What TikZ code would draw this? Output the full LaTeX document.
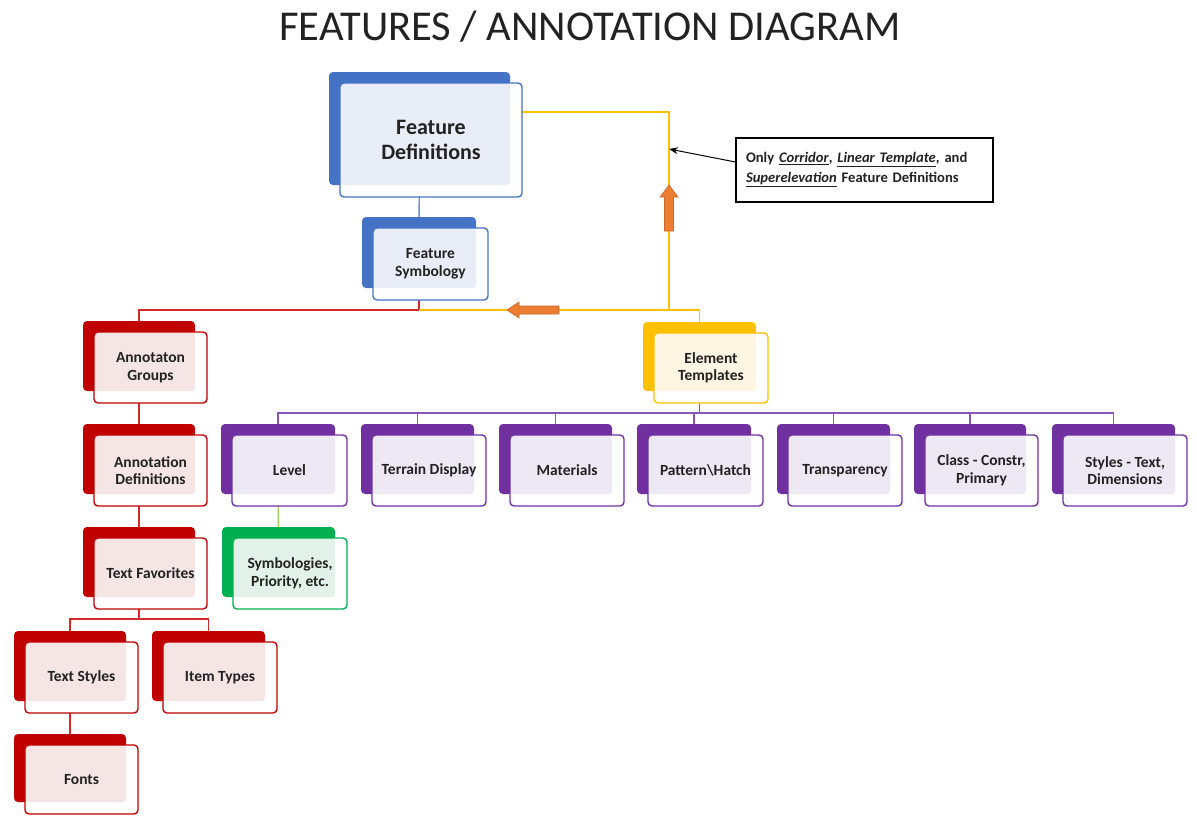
\documentclass[tikz,border=0pt]{standalone}
\usepackage{fontspec}
\setmainfont{Carlito}
\usetikzlibrary{calc,arrows.meta}
\definecolor{cblue}{HTML}{4472C4}
\definecolor{tblue}{HTML}{E9EDF7}
\definecolor{cred}{HTML}{C00000}
\definecolor{tred}{HTML}{F5E5E5}
\definecolor{lred}{HTML}{D42A2A}
\definecolor{cgold}{HTML}{FFC000}
\definecolor{tgold}{HTML}{FEF5E2}
\definecolor{cpurple}{HTML}{7030A0}
\definecolor{tpurple}{HTML}{EDE9F4}
\definecolor{lpurple}{HTML}{8757B8}
\definecolor{cgreen}{HTML}{00B050}
\definecolor{tgreen}{HTML}{E3F2E9}
\definecolor{lgreen}{HTML}{9BCF5A}
\definecolor{corange}{HTML}{ED7D31}
\definecolor{txtc}{HTML}{222222}
\pgfdeclarelayer{canvas}
\pgfdeclarelayer{background}
\pgfsetlayers{canvas,background,main}
\newcommand\bigf{\fontsize{22pt}{25pt}\selectfont\bfseries}
\newcommand\smf{\fontsize{15.5pt}{17.5pt}\selectfont\bfseries}
\newcommand\notef{\fontsize{14.6pt}{20pt}\selectfont\bfseries}
\newcommand\cu[1]{\underline{\itshape #1}}
\tikzset{
  backbox/.style={rounded corners=4pt, inner sep=0pt, draw=none},
  whitebox/.style={rounded corners=4pt, inner sep=0pt, fill=white, draw=none},
  tintbox/.style={rounded corners=3pt, inner sep=0pt, draw=none},
  mainbox/.style={rounded corners=4pt, line width=1.4pt, inner sep=0pt, align=center, text=txtc},
  conn/.style={line width=1.4pt},
}
% #1 name #2 colour #3 tint #4 cx #5 cy #6 w #7 h #8 font #9 text
\newcommand\mkbox[9]{%
  \node[backbox, fill=#2, minimum width={(#6-1)*1pt}, minimum height={(#7-1)*1pt}] (#1b) at (#4-11.5,#5-11.5) {};
  \node[whitebox, minimum width={#6*1pt}, minimum height={#7*1pt}] (#1w) at (#4,#5) {};
  \node[tintbox, fill=#3, minimum width={(#6-12)*1pt}, minimum height={(#7-12)*1pt}] (#1t) at (#4-6,#5-6) {};
  \node[mainbox, draw=#2, font=#8, minimum width={#6*1pt}, minimum height={#7*1pt}] (#1) at (#4,#5) {#9};
}
\begin{document}
\begin{tikzpicture}[x=1pt,y=-1pt]
\useasboundingbox (0,0) rectangle (1197,815);
\begin{pgfonlayer}{canvas}
\fill[white] (0,0) rectangle (1197,815);
\end{pgfonlayer}
\node[font=\fontsize{42.5pt}{48pt}\selectfont, text=txtc] (title) at (590,27) {FEATURES / ANNOTATION DIAGRAM};

\mkbox{FD}{cblue}{tblue}{431}{140}{182}{114}{\bigf}{Feature\\Definitions}
\mkbox{FS}{cblue}{tblue}{430.5}{264}{115}{72}{\smf}{Feature\\Symbology}
\mkbox{AG}{cred}{tred}{150.5}{367.5}{113}{71}{\smf}{Annotaton\\Groups}
\mkbox{AD}{cred}{tred}{150.5}{470.5}{113}{71}{\smf}{Annotation\\Definitions}
\mkbox{TF}{cred}{tred}{150.5}{573.5}{113}{71}{\smf}{Text Favorites}
\mkbox{TS}{cred}{tred}{81.5}{677.5}{113}{71}{\smf}{Text Styles}
\mkbox{IT}{cred}{tred}{220}{677.5}{114}{71}{\smf}{Item Types}
\mkbox{FO}{cred}{tred}{81.5}{779.5}{113}{69}{\smf}{Fonts}
\mkbox{ET}{cgold}{tgold}{711}{368}{114}{70}{\smf}{Element\\Templates}
\mkbox{LV}{cpurple}{tpurple}{289.5}{470.5}{115}{71}{\smf}{Level}
\mkbox{TD}{cpurple}{tpurple}{429}{470.5}{114}{71}{\smf}{Terrain Display}
\mkbox{MA}{cpurple}{tpurple}{567}{470.5}{114}{71}{\smf}{Materials}
\mkbox{PH}{cpurple}{tpurple}{705.5}{470.5}{115}{71}{\smf}{Pattern\textbackslash Hatch}
\mkbox{TR}{cpurple}{tpurple}{845}{470.5}{114}{71}{\smf}{Transparency}
\mkbox{CL}{cpurple}{tpurple}{981.5}{470.5}{113}{71}{\smf}{Class - Constr,\\Primary}
\mkbox{ST}{cpurple}{tpurple}{1125}{470.5}{124}{71}{\smf}{Styles - Text,\\Dimensions}
\mkbox{SY}{cgreen}{tgreen}{290}{573.5}{114}{71}{\smf}{Symbologies,\\Priority, etc.}

\coordinate (rbar) at (0,310);
\coordinate (pbar) at (0,413);
\coordinate (tbar) at (0,619);
\coordinate (ytop) at (0,112);
\coordinate (yj) at (669,310);

\begin{pgfonlayer}{background}
\draw[conn, cblue!80] (FDb.center) -- (FSb.center);
\draw[conn, lred] (FSb.center) -- (FSb.center |- rbar) -| (AGb.center);
\draw[conn, cgold] (FSb.center |- rbar) -| (ETb.center);
\draw[conn, cgold] (FD.center |- ytop) -| (yj);
\draw[conn, lred] (AGb.center) -- (ADb.center);
\draw[conn, lred] (ADb.center) -- (TFb.center);
\draw[conn, lred] (TFb.center) -- (TFb.center |- tbar);
\draw[conn, lred] (TSb.center) |- (ITb.center |- tbar) -- (ITb.center);
\draw[conn, lred] (TSb.center) -- (FOb.center);
\draw[conn, lpurple] (ETb.center) -- (ETb.center |- pbar);
\draw[conn, lpurple] (LVb.center) |- (STb.center |- pbar) -- (STb.center);
\draw[conn, lpurple] (TDb.center) -- (TDb.center |- pbar);
\draw[conn, lpurple] (MAb.center) -- (MAb.center |- pbar);
\draw[conn, lpurple] (PHb.center) -- (PHb.center |- pbar);
\draw[conn, lpurple] (TRb.center) -- (TRb.center |- pbar);
\draw[conn, lpurple] (CLb.center) -- (CLb.center |- pbar);
\draw[conn, lgreen] (LVb.center) -- (SYb.center);
\end{pgfonlayer}

% orange block arrows
\filldraw[fill=corange, draw=corange!85!black, line width=0.6pt]
  (664.5,231) -- (664.5,197) -- (660,197) -- (669,185) -- (678,197) -- (673.5,197) -- (673.5,231) -- cycle;
\filldraw[fill=corange, draw=corange!85!black, line width=0.6pt]
  (559,306) -- (519,306) -- (519,302) -- (507,310) -- (519,318) -- (519,314) -- (559,314) -- cycle;

% callout
\node[draw=black, line width=1.1pt, minimum width=257pt, minimum height=64pt, text width=237pt, inner xsep=10pt, align=left, font=\notef, text=txtc] (note) at (864.5,170)
  {Only \cu{Corridor}, \cu{Linear Template}, and\\\cu{Superelevation} Feature Definitions};
\coordinate (nt) at (669,149);
\draw[line width=1pt, -{Stealth[length=9pt,width=7pt]}] ([yshift=8pt]note.west) -- (nt);
\end{tikzpicture}
\end{document}
